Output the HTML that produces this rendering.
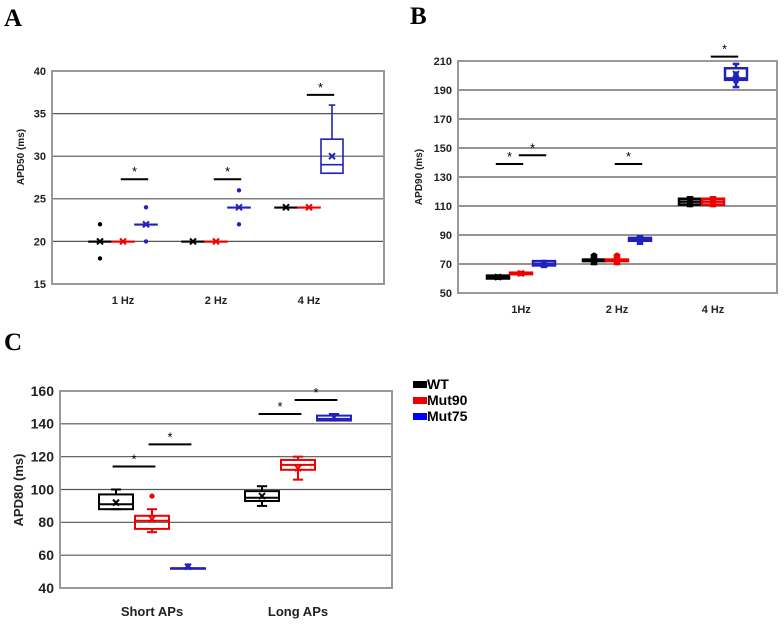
<!DOCTYPE html>
<html><head><meta charset="utf-8"><style>
body{margin:0;background:#fff;width:784px;height:624px;overflow:hidden}
svg{display:block;font-family:"Liberation Sans",sans-serif}
.pl{font-family:"Liberation Serif",serif;font-weight:bold;font-size:25px}
</style></head><body>
<svg id="s" width="784" height="624">
<text class="pl" x="4" y="26">A</text>
<text class="pl" x="410" y="24">B</text>
<text class="pl" x="4" y="350">C</text>
<g>
<g><rect x="413" y="381" width="14" height="7" fill="#000"/><text x="427" y="389" font-size="14" font-weight="bold">WT</text></g>
<g><rect x="413" y="397" width="14" height="7" fill="#e00"/><text x="427" y="405" font-size="14" font-weight="bold">Mut90</text></g>
<g><rect x="413" y="413" width="14" height="7" fill="#00f"/><text x="427" y="421" font-size="14" font-weight="bold">Mut75</text></g>
</g>
</svg>
<script>
// ---- Panel A data (APD50) ----
const catsA=["1 Hz","2 Hz","4 Hz"];
const ticksA=[15,20,25,30,35,40];
// [q1, median, q3, wLow, wHigh, mean]
const wtA=[[20,20,20,20,20,20],[20,20,20,20,20,20],[24,24,24,24,24,24]];
const mut90A=[[20,20,20,20,20,20],[20,20,20,20,20,20],[24,24,24,24,24,24]];
const mut75A=[[22,22,22,22,22,22],[24,24,24,24,24,24],[28,29,32,28,36,30]];
const ptsWtA=[[18,22],[],[]];
const ptsMut75A=[[20,24],[22,26],[]];
// significance: [cat, fromSeries, toSeries, value]
const sigA=[[0,1,2,27.3],[1,1,2,27.3],[2,1,2,37.2]];
// ---- Panel B data (APD90) ----
const catsB=["1Hz","2 Hz","4 Hz"];
const ticksB=[50,70,90,110,130,150,170,190,210];
const wtB=[[60,61,62,60,62,61],[72,73,73,70,76,73],[111,113,115,110,116,113]];
const mut90B=[[63,63.5,64,63,64,63.5],[72,73,73,70,76,73],[111,113,115,110,116,113]];
const mut75B=[[69,70,72,68,72,70],[86,87,88,84,89,87],[197,198,205,192,208,201]];
const ptsWtB=[[61],[71,73,76],[111,115]];
const ptsMut90B=[[63.5],[71,73,76],[111,115]];
const ptsMut75B=[[70,71],[87],[196,199,201]];
const sigB=[[0,0,1,139],[0,1,2,145],[1,1,2,139],[2,1,2,213]];
// ---- Panel C data (APD80) ----
const catsC=["Short APs","Long APs"];
const ticksC=[40,60,80,100,120,140,160];
const wtC=[[88,91,97,88,100,92],[93,95,99,90,102,96]];
const mut90C=[[76,81,84,74,88,82],[112,115,118,106,120,113]];
const mut75C=[[52,52,52,52,52,53],[142,143,145,142,146,144]];
const outMut90C=[[96],[]];
const ptsMut75C=[[53.5],[]];
const sigC=[[0,0,1,114],[0,1,2,127.5],[1,0,1,146],[1,1,2,154.5]];

const NS="http://www.w3.org/2000/svg",svg=document.getElementById('s');
function el(t,a,p){const e=document.createElementNS(NS,t);for(const k in a)e.setAttribute(k,a[k]);(p||svg).appendChild(e);return e;}
const COLS=["#000","#e00","#22b"];
function panel(cfg){
  const g=el('g',{});
  
  
  const Y=v=>cfg.y0-(v-cfg.min)/(cfg.max-cfg.min)*(cfg.y0-cfg.y1);
  const X=(c,s)=>cfg.c0+c*cfg.cs+(s-1)*cfg.off;
  cfg.ticks.forEach(t=>{
    const ln=el('line',{x1:cfg.x0,x2:cfg.x1,y1:Y(t),y2:Y(t),stroke:"#555","stroke-width":1.2},g);
    
    
    const tx=el('text',{x:cfg.x0-6,y:Y(t)+cfg.fs*0.35,"text-anchor":"end","font-size":cfg.fs,"font-weight":"bold",fill:"#222"},g);
    tx.textContent=t;
    
    
  });
  const fr=el('rect',{x:cfg.x0,y:cfg.y1,width:cfg.x1-cfg.x0,height:cfg.y0-cfg.y1,fill:"none",stroke:"#999","stroke-width":2},g);
  
  
  cfg.cats.forEach((c,i)=>{
    const tx=el('text',{x:cfg.c0+i*cfg.cs,y:cfg.ly,"text-anchor":"middle","font-size":cfg.cfs,"font-weight":"bold",fill:"#222"},g);
    tx.textContent=c;
    
    
  });
  const yt=el('text',{x:0,y:0,"text-anchor":"middle","font-size":cfg.tfs,"font-weight":"bold",fill:"#222",transform:`translate(${cfg.tx},${cfg.ty}) rotate(-90)`},g);
  yt.textContent=cfg.title;
  
  
  cfg.series.forEach((ser,s)=>{
    ser.forEach((d,c)=>{
      const cx=X(c,s),hw=cfg.hw,col=COLS[s];
      const bg=el('g',{stroke:col,fill:"none","stroke-width":cfg.sw},g);
      
      
      el('line',{x1:cx,x2:cx,y1:Y(d[3]),y2:Y(d[0])},bg);
      el('line',{x1:cx,x2:cx,y1:Y(d[2]),y2:Y(d[4])},bg);
      el('line',{x1:cx-hw*0.3,x2:cx+hw*0.3,y1:Y(d[3]),y2:Y(d[3])},bg);
      el('line',{x1:cx-hw*0.3,x2:cx+hw*0.3,y1:Y(d[4]),y2:Y(d[4])},bg);
      el('rect',{x:cx-hw,y:Y(d[2]),width:2*hw,height:Math.max(Y(d[0])-Y(d[2]),0.5)},bg);
      el('line',{x1:cx-hw,x2:cx+hw,y1:Y(d[1]),y2:Y(d[1])},bg);
      const m=Y(d[5]);
      el('path',{d:`M${cx-3} ${m-3}L${cx+3} ${m+3}M${cx+3} ${m-3}L${cx-3} ${m+3}`,"stroke-width":2},bg);
    });
  });
  (cfg.pts||[]).forEach(([s,arr])=>arr.forEach((vals,c)=>vals.forEach(v=>{
    const p=el('circle',{cx:X(c,s),cy:Y(v),r:cfg.pr||2.4,fill:COLS[s]},g);
    
    
  })));
  cfg.sig.forEach(([c,a,b,v])=>{
    const xa=X(c,a)-cfg.hw*0.2,xb=X(c,b)+cfg.hw*0.2,yy=Y(v);
    const sg=el('g',{},g);
    
    
    el('line',{x1:xa,x2:xb,y1:yy,y2:yy,stroke:"#000","stroke-width":2},sg);
    const t=el('text',{x:(xa+xb)/2,y:yy-3,"text-anchor":"middle","font-size":13,fill:"#000"},sg);
    t.textContent="*";
  });
}
panel({name:"panel-a-chart",x0:52,x1:384,y0:284,y1:71,min:15,max:40,ticks:ticksA,cats:catsA,c0:123,cs:93,off:23,hw:11,sw:1.6,
  ly:304,fs:11,cfs:11,tfs:10,title:"APD50 (ms)",tx:24,ty:157,series:[wtA,mut90A,mut75A],snames:["wt","mut90","mut75"],
  pts:[[0,ptsWtA],[2,ptsMut75A]],pr:2.2,sig:sigA});
panel({name:"panel-b-chart",x0:458,x1:777,y0:293,y1:61,min:50,max:210,ticks:ticksB,cats:catsB,c0:521,cs:96,off:23,hw:11,sw:2.5,
  ly:313,fs:11,cfs:11,tfs:10,title:"APD90 (ms)",tx:422,ty:177,series:[wtB,mut90B,mut75B],snames:["wt","mut90","mut75"],
  pts:[[0,ptsWtB],[1,ptsMut90B],[2,ptsMut75B]],pr:2.8,sig:sigB});
panel({name:"panel-c-chart",x0:60,x1:392,y0:588,y1:391,min:40,max:160,ticks:ticksC,cats:catsC,c0:152,cs:146,off:36,hw:17,sw:2,
  ly:616,fs:14,cfs:13,tfs:13,title:"APD80 (ms)",tx:23,ty:490,series:[wtC,mut90C,mut75C],snames:["wt","mut90","mut75"],
  pts:[[1,outMut90C],[2,ptsMut75C]],pr:2.6,sig:sigC});
</script>
</body></html>
